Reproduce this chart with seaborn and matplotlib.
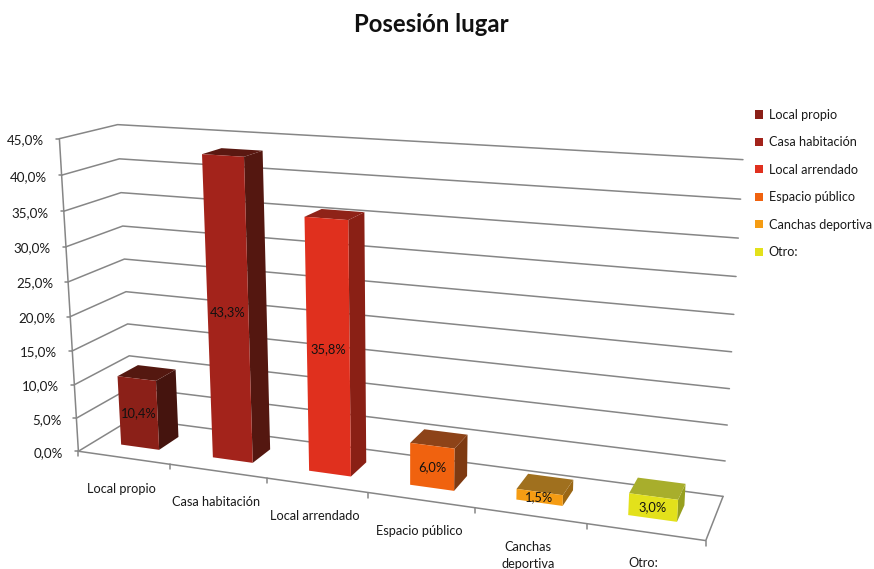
import numpy as np
import matplotlib
matplotlib.use("Agg")
import matplotlib.pyplot as plt
from matplotlib.patches import Patch, Polygon
from matplotlib.transforms import Transform, Affine2D
import seaborn as sns

# ---- data
categories = ["Local propio", "Casa habitación", "Local arrendado",
              "Espacio público", "Canchas deportiva", "Otro:"]
axis_labels = ["Local propio", "Casa habitación", "Local arrendado",
               "Espacio público", "Canchas\ndeportiva", "Otro:"]
values = [10.4, 43.3, 35.8, 6.0, 1.5, 3.0]
value_labels = ["10,4%", "43,3%", "35,8%", "6,0%", "1,5%", "3,0%"]
y_ticks = [0, 5, 10, 15, 20, 25, 30, 35, 40, 45]
y_tick_labels = ["0,0%", "5,0%", "10,0%", "15,0%", "20,0%", "25,0%", "30,0%", "35,0%", "40,0%", "45,0%"]
front_colors = ["#8B2018", "#A3231B", "#E0301E", "#F0620F", "#F59C13", "#E3E11B"]
side_colors = ["#45140E", "#541710", "#8A2015", "#7E3A12", "#9A6715", "#97A01F"]
top_colors = ["#541810", "#5A1811", "#8F2318", "#8D4318", "#A0701E", "#A8AE2C"]

W, H = 874, 569
sns.set_style("white")
plt.rcParams["font.family"] = ["Lato", "DejaVu Sans"]
TEXT = "#1a1a1a"
GRID = "#868686"

# ---- calibration of the 3-D view: (category pos, percent, depth) -> reference pixel
calib = [(-.5, 0, 0, 78, 451), (-.5, 45, 0, 60, 139), (5.5, 0, 0, 706, 542),
         (-.5, 0, 1, 133, 420), (-.5, 45, 1, 117, 124), (5.5, 45, 1, 743, 160),
         (5.5, 0, 1, 723, 495), (.5, 0, 0, 170, 464), (1.5, 0, 0, 267, 477),
         (2.5, 0, 0, 368, 492), (3.5, 0, 0, 475, 508), (4.5, 0, 0, 587, 524)]
rows = []
for cx, cy, cz, u, v in calib:
    X = [cx, cy / 45, cz, 1]
    u, v = u / 500, v / 500
    rows.append(X + [0, 0, 0, 0] + [-u * c for c in X])
    rows.append([0, 0, 0, 0] + X + [-v * c for c in X])
P = np.linalg.svd(np.array(rows, float))[2][-1].reshape(3, 4)


def project(x, y, z):
    x, y, z = np.broadcast_arrays(np.asarray(x, float), np.asarray(y, float), np.asarray(z, float))
    h = P @ np.stack([x, y / 45, z, np.ones_like(x)])
    return np.stack([500 * h[0] / h[2], 500 * h[1] / h[2]], axis=-1)


class Plane(Transform):
    input_dims = output_dims = 2
    is_affine = False

    def __init__(self, z):
        super().__init__()
        self.z = z

    def transform_non_affine(self, values):
        values = np.asarray(values, float)
        return project(values[:, 0], values[:, 1], self.z)


screen = Affine2D().scale(1, -1).translate(0, H)

fig = plt.figure(figsize=(W / 100, H / 100), dpi=100)
ax = fig.add_axes([0, 0, 1, 1])

# ---- bars through seaborn, then mapped on a depth plane
BAR_Z0, BAR_Z1 = 0.30, 0.68
sns.barplot(x=categories, y=values, hue=categories, palette=front_colors, dodge=False,
            width=0.42, legend=False, linewidth=0, saturation=1, ax=ax, zorder=4)
ax.set_xlim(-.5, 5.5)
ax.set_ylim(0, 45)
ax.set_axis_off()

front_plane = Plane(BAR_Z0) + screen
bars = sorted(ax.patches, key=lambda b: b.get_x())
for i, b in enumerate(bars):
    b.set_transform(front_plane)
    b.set_clip_on(False)
    x0, x1, h = b.get_x(), b.get_x() + b.get_width(), b.get_height()
    side = project([x1, x1, x1, x1], [0, 0, h, h], [BAR_Z0, BAR_Z1, BAR_Z1, BAR_Z0])
    top = project([x0, x1, x1, x0], [h, h, h, h], [BAR_Z0, BAR_Z0, BAR_Z1, BAR_Z1])
    ax.add_patch(Polygon(side, fc=side_colors[i], ec="none", transform=screen, zorder=3))
    ax.add_patch(Polygon(top, fc=top_colors[i], ec="none", transform=screen, zorder=3))
    cx, cy = project((x0 + x1) / 2, h / 2, BAR_Z0)
    ax.text(cx, cy, value_labels[i], transform=screen, ha="center", va="center",
            fontsize=9.3, color="#111111", zorder=6)

# ---- walls and floor
line = dict(color=GRID, lw=1.1, solid_capstyle="round", clip_on=False, zorder=1)
for t, lab in zip(y_ticks, y_tick_labels):
    pts = project([-.5, -.5, 5.5], [t, t, t], [0, 1, 1])
    ax.plot(pts[:, 0], pts[:, 1], transform=screen, **line)
    tx, ty = pts[0]
    ax.plot([tx - 3, tx], [ty, ty], transform=screen, **line)
    ax.text(tx - 15, ty + 1.5, lab, transform=screen, ha="right", va="center", fontsize=9.6, color=TEXT)
pts = project([-.5, -.5], [0, 45], [0, 0])
ax.plot(pts[:, 0], pts[:, 1], transform=screen, **line)
pts = project([-.5, 5.5, 5.5], [0, 0, 0], [0, 0, 1])
ax.plot(pts[:, 0], pts[:, 1], transform=screen, **line)
for k in np.arange(-.5, 6):
    tx, ty = project(k, 0, 0)
    ax.plot([tx, tx], [ty, ty + 5], transform=screen, **line)
for k, lab in enumerate(axis_labels):
    tx, ty = project(k, 0, 0)
    ax.text(tx - 2, ty + 25, lab, transform=screen, ha="center", va="top", fontsize=9.2,
            color=TEXT, linespacing=1.5, clip_on=False)

# ---- legend and title
handles = [Patch(fc=c, ec="none", label=n) for c, n in zip(front_colors, categories)]
ax.legend(handles=handles, loc="upper left", bbox_to_anchor=(755 / W, 1 - 109 / H),
          bbox_transform=fig.transFigure, frameon=False, borderpad=0, borderaxespad=0,
          handlelength=0.62, handleheight=0.62, handletextpad=0.45, labelspacing=1.22,
          labelcolor=TEXT, fontsize=9.1)
fig.suptitle("Posesión lugar", x=431 / W, y=1 - 25 / H, va="center", ha="center",
             fontsize=17.2, fontweight="bold", color="#111111")
fig.savefig("out.png", dpi=100)
